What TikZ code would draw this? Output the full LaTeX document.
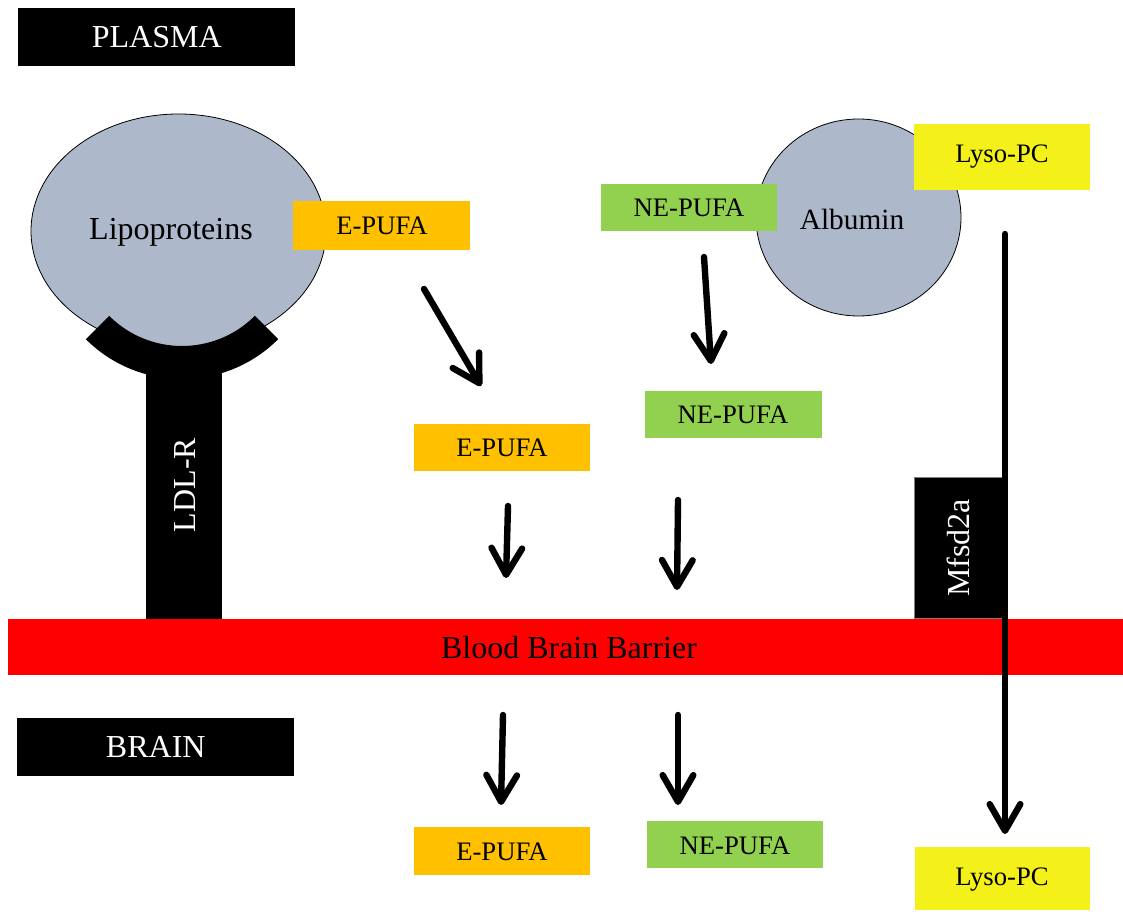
\documentclass[tikz,border=0pt]{standalone}
\usepackage{fontspec}
\setmainfont{Liberation Serif}
\usetikzlibrary{arrows.meta,shapes.geometric}
\definecolor{epufa}{HTML}{FFC000}
\definecolor{nepufa}{HTML}{92D050}
\definecolor{lyso}{HTML}{F4F01A}
\definecolor{carrier}{HTML}{ADB9CA}
\definecolor{bbb}{HTML}{FF0000}
\begin{document}
\begin{tikzpicture}[x=0.75pt,y=-0.75pt,
  bigtxt/.style={font=\fontsize{24}{28}\selectfont},
  boxtxt/.style={font=\fontsize{20}{24}\selectfont},
  label/.style={rectangle,draw=none,inner sep=0pt,anchor=north west},
  blackbox/.style={label,fill=black,text=white,bigtxt},
  epbox/.style={label,fill=epufa,boxtxt},
  nepbox/.style={label,fill=nepufa,boxtxt},
  lysobox/.style={label,fill=lyso,boxtxt},
  carrierc/.style={ellipse,fill=carrier,draw=black,line width=0.6pt,inner sep=0pt},
  flow/.style={line width=4.8pt,line cap=round,
    -{Straight Barb[length=20pt,width=23pt,line cap=round,line join=round]}}]
\useasboundingbox (0,0) rectangle (1123,912);

% compartment labels
\node[blackbox,minimum width=277*0.75pt,minimum height=58*0.75pt] (plasma) at (18,8) {PLASMA};
\node[blackbox,minimum width=277*0.75pt,minimum height=58*0.75pt] (brain) at (17,718) {BRAIN};

% carriers in plasma
\node[carrierc,minimum width=295*0.75pt,minimum height=234*0.75pt] (lipo) at (178.5,231) {};
\node[bigtxt] (lipotxt) at (171,232) {Lipoproteins};
\node[carrierc,minimum width=205*0.75pt,minimum height=197*0.75pt] (alb) at (858.5,217.5) {};
\node[font=\fontsize{22}{26}\selectfont] (albtxt) at (852,219) {Albumin};

% LDL receptor: cup below the lipoprotein and its stem
\fill[black] (182,243) ++(135:103) arc[start angle=135,end angle=45,radius=103]
  -- ++(45:33) arc[start angle=45,end angle=135,radius=136] -- cycle;
\node[label,fill=black,minimum width=76*0.75pt,minimum height=262*0.75pt] (ldlr) at (146,358) {};
\node[bigtxt,text=white,rotate=90] (ldlrtxt) at (185,485) {LDL-R};

% blood brain barrier
\node[label,fill=bbb,minimum width=1115*0.75pt,minimum height=56*0.75pt] (bbbar) at (8,619) {};
\node[bigtxt] (bbbtxt) at (569,648) {Blood Brain Barrier};

% Mfsd2a transporter
\node[label,fill=black,draw=gray,line width=0.5pt,minimum width=91*0.75pt,minimum height=141*0.75pt] (mfsd) at (914,477) {};
\node[bigtxt,text=white,rotate=90] (mfsdtxt) at (958,548) {Mfsd2a};

% fatty acid and lysophospholipid boxes
\node[epbox,minimum width=177*0.75pt,minimum height=49*0.75pt] (ep1) at (293,201) {};
\node[boxtxt] at (382,226) {E-PUFA};
\node[nepbox,minimum width=176*0.75pt,minimum height=47*0.75pt] (nep1) at (601,184) {};
\node[boxtxt] at (689,208) {NE-PUFA};
\node[lysobox,minimum width=176*0.75pt,minimum height=66*0.75pt] (lyso1) at (914,124) {};
\node[boxtxt] at (1002,157) {Lyso-PC};

\node[epbox,minimum width=176*0.75pt,minimum height=47*0.75pt] (ep2) at (414,424) {};
\node[boxtxt] at (502,448) {E-PUFA};
\node[nepbox,minimum width=177*0.75pt,minimum height=47*0.75pt] (nep2) at (645,391) {};
\node[boxtxt] at (733,415) {NE-PUFA};

\node[epbox,minimum width=176*0.75pt,minimum height=48*0.75pt] (ep3) at (414,827) {};
\node[boxtxt] at (502,852) {E-PUFA};
\node[nepbox,minimum width=176*0.75pt,minimum height=47*0.75pt] (nep3) at (647,821) {};
\node[boxtxt] at (735,846) {NE-PUFA};
\node[lysobox,minimum width=175*0.75pt,minimum height=63*0.75pt] (lyso3) at (915,847) {};
\node[boxtxt] at (1002,880) {Lyso-PC};

% transport arrows
\coordinate (a1s) at (424,289); \coordinate (a1e) at (481,386);
\coordinate (a2s) at (704,257); \coordinate (a2e) at (711,364);
\coordinate (a3s) at (508,506); \coordinate (a3e) at (506,578);
\coordinate (a4s) at (678,500); \coordinate (a4e) at (677,590);
\coordinate (a5s) at (503,715); \coordinate (a5e) at (501,805);
\coordinate (a6s) at (678,715); \coordinate (a6e) at (678,805);
\coordinate (a7s) at (1005,234); \coordinate (a7e) at (1005,834);
\draw[flow] (a1s) -- (a1e);
\draw[flow] (a2s) -- (a2e);
\draw[flow] (a3s) -- (a3e);
\draw[flow] (a4s) -- (a4e);
\draw[flow] (a5s) -- (a5e);
\draw[flow] (a6s) -- (a6e);
\draw[flow] (a7s) -- (a7e);
\end{tikzpicture}
\end{document}
